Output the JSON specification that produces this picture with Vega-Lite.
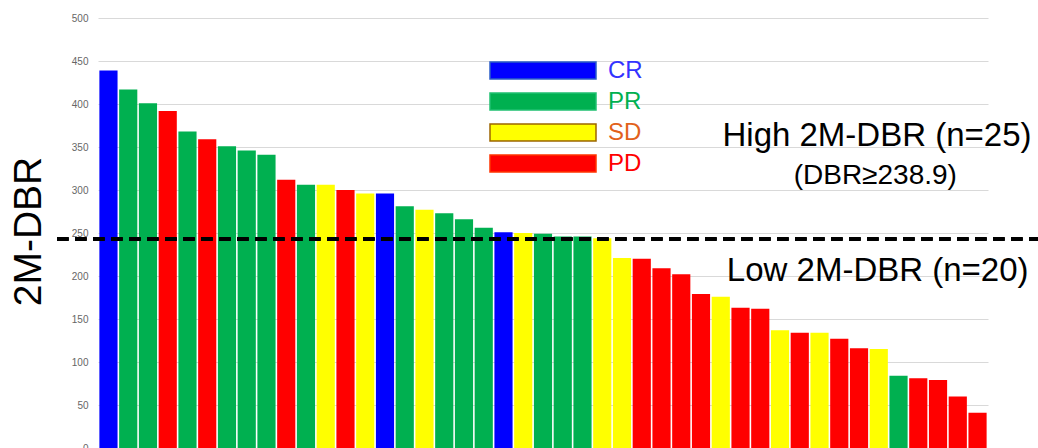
{
  "$schema": "https://vega.github.io/schema/vega-lite/v6.json",
  "autosize": {"type": "none"},
  "width": 890,
  "height": 430,
  "padding": {"left": 98, "top": 18, "right": 50, "bottom": 0},
  "background": "white",
  "config": {
    "view": {"stroke": null},
    "font": "Liberation Sans"
  },
  "data": {
    "values": [
      {"id": 1, "value": 439, "resp": "CR"},
      {"id": 2, "value": 417, "resp": "PR"},
      {"id": 3, "value": 401, "resp": "PR"},
      {"id": 4, "value": 392, "resp": "PD"},
      {"id": 5, "value": 368, "resp": "PR"},
      {"id": 6, "value": 359, "resp": "PD"},
      {"id": 7, "value": 351, "resp": "PR"},
      {"id": 8, "value": 346, "resp": "PR"},
      {"id": 9, "value": 341, "resp": "PR"},
      {"id": 10, "value": 312, "resp": "PD"},
      {"id": 11, "value": 306, "resp": "PR"},
      {"id": 12, "value": 306, "resp": "SD"},
      {"id": 13, "value": 300, "resp": "PD"},
      {"id": 14, "value": 296, "resp": "SD"},
      {"id": 15, "value": 296, "resp": "CR"},
      {"id": 16, "value": 281, "resp": "PR"},
      {"id": 17, "value": 277, "resp": "SD"},
      {"id": 18, "value": 273, "resp": "PR"},
      {"id": 19, "value": 266, "resp": "PR"},
      {"id": 20, "value": 256, "resp": "PR"},
      {"id": 21, "value": 251, "resp": "CR"},
      {"id": 22, "value": 250, "resp": "SD"},
      {"id": 23, "value": 249, "resp": "PR"},
      {"id": 24, "value": 246, "resp": "PR"},
      {"id": 25, "value": 246, "resp": "PR"},
      {"id": 26, "value": 244, "resp": "SD"},
      {"id": 27, "value": 221, "resp": "SD"},
      {"id": 28, "value": 220, "resp": "PD"},
      {"id": 29, "value": 209, "resp": "PD"},
      {"id": 30, "value": 202, "resp": "PD"},
      {"id": 31, "value": 179, "resp": "PD"},
      {"id": 32, "value": 176, "resp": "SD"},
      {"id": 33, "value": 163, "resp": "PD"},
      {"id": 34, "value": 162, "resp": "PD"},
      {"id": 35, "value": 137, "resp": "SD"},
      {"id": 36, "value": 134, "resp": "PD"},
      {"id": 37, "value": 134, "resp": "SD"},
      {"id": 38, "value": 127, "resp": "PD"},
      {"id": 39, "value": 116, "resp": "PD"},
      {"id": 40, "value": 115, "resp": "SD"},
      {"id": 41, "value": 84, "resp": "PR"},
      {"id": 42, "value": 81, "resp": "PD"},
      {"id": 43, "value": 79, "resp": "PD"},
      {"id": 44, "value": 60, "resp": "PD"},
      {"id": 45, "value": 41, "resp": "PD"}
    ]
  },
  "resolve": {"scale": {"x": "independent"}},
  "layer": [
    {
      "mark": {"type": "bar"},
      "encoding": {
        "x": {"field": "id", "type": "ordinal", "sort": null, "axis": null,
              "scale": {"paddingInner": 0.08, "paddingOuter": 0.07}},
        "y": {"field": "value", "type": "quantitative",
              "scale": {"domain": [0, 500], "nice": false},
              "axis": {
                "title": "2M-DBR", "titleFontSize": 39, "titleFontWeight": "normal", "titleColor": "black",
                "titleFont": "Liberation Sans", "titleAngle": -90, "titleX": -70, "titleY": 213,
                "titleAlign": "center", "titleBaseline": "middle",
                "values": [0, 50, 100, 150, 200, 250, 300, 350, 400, 450, 500],
                "labelFontSize": 10, "labelColor": "#666666", "labelPadding": 10,
                "ticks": false, "domain": false,
                "grid": true, "gridColor": "#d9d9d9", "gridWidth": 1
              }},
        "color": {"field": "resp", "type": "nominal",
                  "scale": {"domain": ["CR", "PR", "SD", "PD"], "range": ["#0000ff", "#00b050", "#ffff00", "#ff0000"]},
                  "legend": {
                    "orient": "none", "legendX": 391, "legendY": 37, "title": null,
                    "symbolType": "M-1,-0.16H1V0.16H-1Z", "symbolSize": 11236,
                    "symbolStrokeWidth": 1.5, "clipHeight": 31, "rowPadding": 0,
                    "labelFontSize": 24, "labelFont": "Liberation Sans", "labelOffset": 11,
                    "labelBaseline": "middle",
                    "encode": {
                      "labels": {"update": {"fill": {"signal": "datum.value === 'CR' ? '#3333ff' : datum.value === 'PR' ? '#00b050' : datum.value === 'SD' ? '#e2621b' : '#ff0000'"}}},
                      "symbols": {"update": {"stroke": {"signal": "datum.value === 'SD' ? '#9c6500' : datum.value === 'PD' ? '#ff3300' : datum.value === 'CR' ? '#2a5cc8' : '#1fc070'"}}}
                    }
                  }}
      }
    },
    {
      "mark": {"type": "rule", "color": "black", "strokeWidth": 3.5, "strokeDash": [11, 7]},
      "encoding": {
        "x": {"datum": -2.07, "type": "quantitative", "scale": {"domain": [0, 45], "nice": false, "zero": false}, "axis": null},
        "x2": {"datum": 47.53},
        "y": {"datum": 243, "type": "quantitative"}
      }
    },
    {
      "data": {"values": [{"t": "High 2M-DBR (n=25)"}]},
      "mark": {"type": "text", "fontSize": 33, "font": "Liberation Sans", "align": "right", "baseline": "alphabetic", "color": "black"},
      "encoding": {
        "text": {"field": "t"},
        "x": {"datum": 47.2, "type": "quantitative", "scale": {"domain": [0, 45], "nice": false, "zero": false}, "axis": null},
        "y": {"datum": 351, "type": "quantitative"}
      }
    },
    {
      "data": {"values": [{"t": "(DBR≥238.9)"}]},
      "mark": {"type": "text", "fontSize": 28, "font": "Liberation Sans", "align": "center", "baseline": "alphabetic", "color": "black"},
      "encoding": {
        "text": {"field": "t"},
        "x": {"datum": 39.3, "type": "quantitative", "scale": {"domain": [0, 45], "nice": false, "zero": false}, "axis": null},
        "y": {"datum": 307, "type": "quantitative"}
      }
    },
    {
      "data": {"values": [{"t": "Low 2M-DBR (n=20)"}]},
      "mark": {"type": "text", "fontSize": 33, "font": "Liberation Sans", "align": "right", "baseline": "alphabetic", "color": "black"},
      "encoding": {
        "text": {"field": "t"},
        "x": {"datum": 47.05, "type": "quantitative", "scale": {"domain": [0, 45], "nice": false, "zero": false}, "axis": null},
        "y": {"datum": 194, "type": "quantitative"}
      }
    }
  ]
}
